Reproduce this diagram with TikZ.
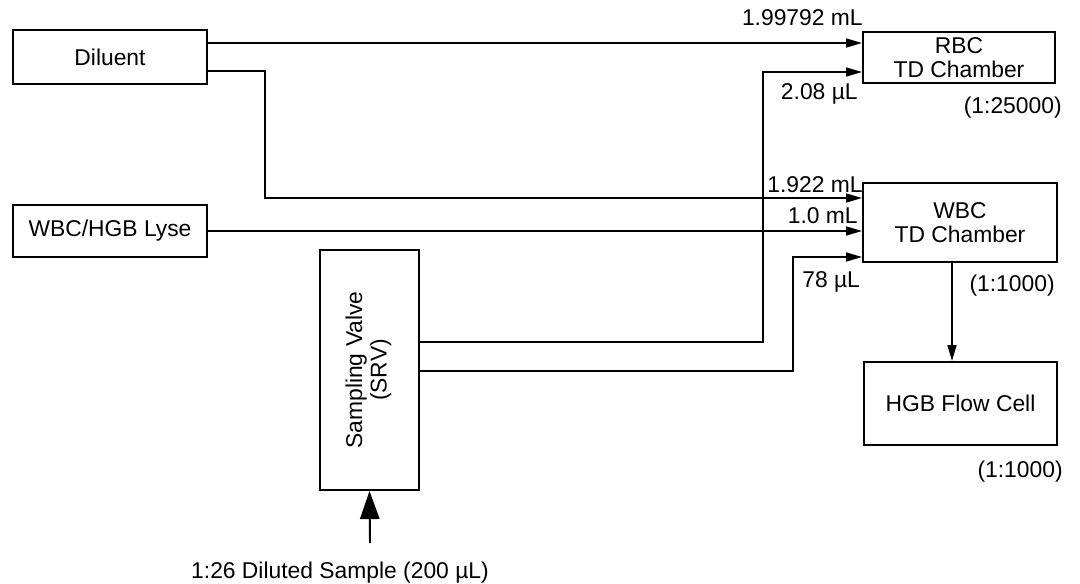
\documentclass[tikz,border=0pt]{standalone}
\usepackage{fontspec}
\setmainfont{Liberation Sans}
\usetikzlibrary{arrows.meta}
\begin{document}
\begin{tikzpicture}[x=0.02cm,y=-0.02cm,
    font=\fontsize{13}{14}\selectfont,
    box/.style={draw,line width=1.1pt,inner sep=0pt,align=center},
    flow/.style={line width=1.1pt,-{Triangle[length=9pt,width=5pt]}},
    feed/.style={line width=1.1pt,-{Triangle[length=16pt,width=11pt]}},
    lbl/.style={inner sep=0pt}]
    \useasboundingbox (0,0) rectangle (1080,583);

    \node [box,minimum width=3.88cm,minimum height=1.08cm] (dil) at (110,57) {Diluent};
    \node [box,minimum width=3.88cm,minimum height=1.04cm] (lyse) at (110,231) {WBC/HGB Lyse};
    \node [box,minimum width=1.98cm,minimum height=4.8cm] (srv) at (369.5,370)
        {\rotatebox{90}{\begin{tabular}{@{}c@{}}Sampling Valve\\(SRV)\end{tabular}}};
    \node [box,minimum width=3.84cm,minimum height=1.02cm] (rbc) at (959,57.5) {RBC\\TD Chamber};
    \node [box,minimum width=3.88cm,minimum height=1.58cm] (wbc) at (960,222.5) {WBC\\TD Chamber};
    \node [box,minimum width=3.86cm,minimum height=1.66cm] (hgb) at (960.5,403.5) {HGB Flow Cell};

    \coordinate (rtop) at (0,43);
    \coordinate (dbend) at (265,71);
    \coordinate (dwbc) at (265,198);
    \coordinate (srvhi) at (763,342);
    \coordinate (rlo) at (763,72);
    \coordinate (srvlo) at (793,371);
    \coordinate (wlo) at (793,257);
    \coordinate (wdrop) at (952,0);
    \coordinate (smp) at (370,543);

    \draw [flow] (dil.east |- rtop) -- (rbc.west |- rtop);
    \draw [flow] (dil.east |- dbend) -- (dbend) -- (dwbc) -- (wbc.west |- dwbc);
    \draw [flow] (lyse.east) -- (wbc.west |- lyse.east);
    \draw [flow] (srv.east |- srvhi) -- (srvhi) -- (rlo) -- (rbc.west |- rlo);
    \draw [flow] (srv.east |- srvlo) -- (srvlo) -- (wlo) -- (wbc.west |- wlo);
    \draw [flow] (wdrop |- wbc.south) -- (wdrop |- hgb.north);
    \draw [feed] (smp) -- (srv.south);

    \node [lbl,anchor=base east] (vol1) at (863,25) {1.99792 mL};
    \node [lbl,anchor=base east] (vol2) at (858,99) {2.08 µL};
    \node [lbl,anchor=east] (rat1) at (1062,108) {(1:25000)};
    \node [lbl,anchor=base east] (vol3) at (863,192) {1.922 mL};
    \node [lbl,anchor=base east] (vol4) at (858,223) {1.0 mL};
    \node [lbl,anchor=base west] (vol5) at (802,287) {78 µL};
    \node [lbl,anchor=east] (rat2) at (1055,286) {(1:1000)};
    \node [lbl,anchor=east] (rat3) at (1063,472) {(1:1000)};
    \node [lbl,anchor=base] (smplbl) at (340,578) {1:26 Diluted Sample (200 µL)};
\end{tikzpicture}
\end{document}
